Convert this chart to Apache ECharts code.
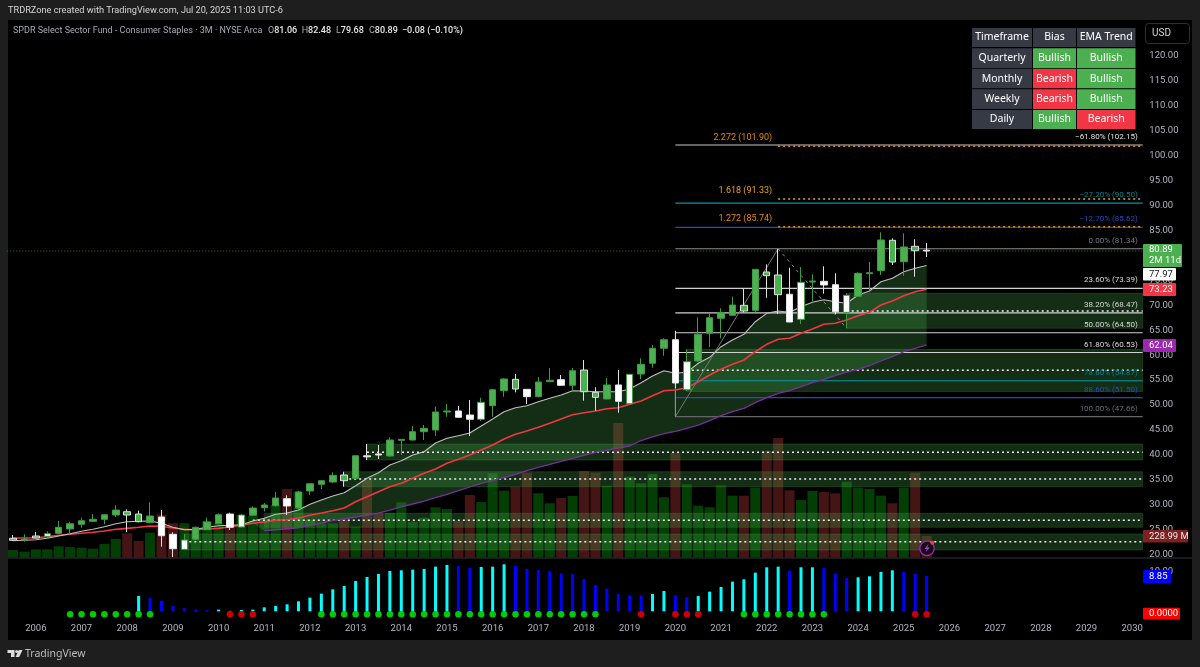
<!DOCTYPE html>
<html>
<head>
<meta charset="utf-8">
<title>XLP 3M</title>
<style>
  html, body { margin: 0; padding: 0; background: #1e1e1e; }
  #chart { width: 1200px; height: 667px; }
</style>
<script src="https://cdn.jsdelivr.net/npm/echarts@6/dist/echarts.min.js"></script>
</head>
<body>
<div id="chart"></div>
<script>
// quarterly bars, Q3 2005 to Q3 2025
const opens = [22.87,22.97,23.33,23.67,24.27,25.14,26.08,26.68,27.08,27.94,27.94,26.60,26.40,27.54,24.07,22.93,23.07,25.00,26.20,28.14,27.94,27.88,29.41,29.81,31.21,29.34,32.76,34.10,34.56,34.82,35.30,39.81,40.18,39.77,42.92,42.98,44.65,44.99,48.60,48.80,48.00,47.14,49.87,52.87,53.21,53.15,51.67,54.68,55.08,53.96,52.67,52.55,51.21,54.02,50.27,56.22,58.37,61.38,63.10,58.69,58.83,64.38,67.39,67.99,68.85,68.99,75.94,72.13,72.21,67.19,74.67,74.81,74.13,68.59,71.81,76.34,76.94,78.68,78.74,80.95,81.06];
const closes = [23.27,23.13,23.73,24.19,25.48,26.20,26.80,27.08,28.00,28.94,28.60,28.14,27.74,23.79,21.18,21.06,25.48,26.54,28.00,25.48,25.54,29.34,29.95,31.35,29.75,32.56,34.22,34.82,35.90,35.96,39.83,39.61,39.98,42.98,43.12,44.65,45.33,48.60,48.80,47.54,47.14,50.55,53.07,55.22,55.16,51.67,54.62,54.96,53.96,56.88,57.02,51.55,54.02,50.74,56.16,58.17,61.38,63.10,54.42,53.07,64.18,67.51,68.51,70.06,70.00,77.22,76.68,76.08,66.65,74.61,74.87,74.07,68.72,72.01,76.42,76.54,83.10,83.04,81.70,81.83,80.89];
const lows = [22.73,22.59,23.27,23.27,24.13,24.13,25.39,26.54,26.08,27.54,24.53,26.48,26.28,21.58,19.46,21.06,22.93,24.93,26.08,24.93,25.48,27.74,28.68,29.61,27.94,28.94,31.95,33.15,34.42,33.62,35.26,38.97,39.17,39.64,39.98,42.88,42.98,43.79,47.66,47.50,43.79,46.80,47.66,51.67,52.55,50.21,51.55,54.62,53.92,52.67,50.87,48.86,51.15,48.46,50.21,55.16,57.48,59.89,53.41,52.81,58.69,61.64,63.38,67.91,68.59,68.59,71.52,68.25,66.65,66.25,70.80,72.33,68.19,65.39,71.66,73.07,76.08,78.08,75.94,75.74,79.68];
const highs = [23.93,24.07,24.53,24.67,26.74,26.60,27.40,28.14,28.08,29.89,29.08,28.81,30.49,28.94,24.47,24.13,25.63,27.40,28.28,28.40,28.14,29.69,30.35,32.56,31.89,32.76,34.30,34.96,36.50,36.63,39.87,42.18,41.98,43.52,43.18,45.79,46.00,49.66,50.20,49.80,51.01,51.47,53.21,55.36,56.22,53.21,55.62,57.42,56.02,57.42,59.03,53.55,55.42,57.02,56.22,59.37,62.04,63.38,64.85,61.18,67.59,68.25,69.40,71.73,73.41,77.28,78.22,81.29,77.54,77.68,76.22,77.82,76.42,72.41,76.62,78.68,84.64,83.44,84.44,83.24,82.48];
// g green, w white, gw green body white outline, wg white body green outline
const candleKinds = ['gw','g','gw','wg','g','g','g','g','g','g','gw','gw','g','w','w','wg','g','g','g','w','wg','g','g','g','w','g','g','g','g','gw','g','w','w','g','g','g','g','g','g','w','w','wg','g','g','gw','w','g','g','w','g','gw','gw','g','w','wg','g','g','g','w','wg','g','g','g','g','gw','g','gw','gw','w','wg','g','w','w','wg','g','g','g','gw','g','gw','w'];

const emaFast = [22.79,22.87,22.99,23.27,23.73,24.19,24.67,25.07,25.59,26.20,26.60,26.68,26.74,26.28,25.48,25.00,25.07,25.48,25.80,25.88,26.00,26.74,27.28,28.08,28.34,28.94,30.09,30.95,31.75,32.41,33.82,35.30,36.43,37.97,38.83,39.98,40.64,42.38,43.33,43.85,44.39,45.79,47.20,48.66,49.46,49.87,50.67,51.35,52.01,52.87,52.81,52.67,52.67,52.67,53.21,54.48,55.82,56.88,56.36,56.56,58.37,59.57,61.70,63.04,64.18,66.71,68.39,68.85,68.59,69.72,70.60,71.12,70.72,70.40,72.06,72.87,74.73,75.41,76.74,77.42,77.97];
const emaMid = [23.33,23.33,23.39,23.59,23.87,24.07,24.27,24.47,24.73,25.07,25.27,25.48,25.74,25.68,25.34,25.07,25.00,25.14,25.27,25.59,25.88,26.28,26.54,26.88,27.00,27.34,27.88,28.34,28.81,29.34,30.61,31.61,32.62,33.62,34.30,35.30,36.31,37.17,38.31,39.11,39.98,40.98,41.98,43.18,44.13,44.79,45.53,46.33,47.20,48.06,48.46,48.80,49.26,49.46,50.14,50.81,51.87,52.87,53.01,53.47,54.67,56.02,57.16,58.17,59.03,60.69,62.18,63.18,63.38,64.38,65.25,66.19,66.39,67.05,67.91,68.59,70.06,70.86,71.93,72.73,73.23];
const emaSlow = [null,null,null,null,null,null,null,null,null,null,null,null,null,null,null,null,null,null,null,null,null,null,24.79,24.99,25.19,25.39,25.80,26.28,26.88,27.14,27.54,27.94,28.34,28.94,29.55,30.15,30.75,31.41,32.09,32.82,33.56,34.30,34.82,35.50,36.10,36.83,37.51,38.11,38.71,39.31,39.92,40.52,40.92,41.38,41.78,42.88,43.59,44.25,44.73,45.33,45.99,46.86,47.86,48.66,49.34,50.47,51.47,52.35,52.87,53.67,54.48,55.16,55.88,56.62,57.16,57.88,58.83,59.69,60.69,61.38,62.04];

// volume in millions
const volumes = [83,66,90,90,122,114,107,97,146,198,257,177,263,450,361,361,291,385,361,343,447,437,406,551,718,690,395,361,361,395,326,811,465,471,579,378,419,527,510,385,655,582,881,700,742,887,673,569,624,645,905,887,752,1404,846,777,874,631,1095,766,544,527,756,648,648,731,1113,1248,704,603,697,686,673,794,731,718,648,569,731,887,229];
const volumeDownBars = [10,11,13,14,19,24,29,31,32,39,40,44,45,48,50,51,53,58,64,66,67,68,71,72,77,79,80];

// lower pane
const momentum = [null,null,null,null,null,null,null,null,null,null,null,3.84,3.43,2.67,1.34,0.84,0.42,0.25,0.42,0.1,0.33,0.42,1.0,1.34,1.75,2.5,3.43,4.43,5.51,6.35,7.6,8.6,9.36,10.1,10.28,10.44,10.61,11.19,11.61,11.36,10.86,11.11,11.19,11.78,11.36,10.61,10.36,10.1,9.52,9.36,8.1,6.6,5.68,4.34,4.01,4.01,4.34,5.1,4.01,3.51,3.84,4.93,6.1,7.44,8.02,9.69,11.03,11.19,10.19,11.03,11.03,10.86,9.52,8.35,8.52,8.77,9.86,10.28,9.86,9.36,8.85];
const momentumBlueBars = [12,13,14,15,16,17,39,40,44,45,46,47,48,49,50,51,52,53,54,55,58,59,68,71,72,73,78,79,80];
const squeezeGreen = [5,6,7,8,9,10,11,12,27,28,29,30,31,32,33,34,35,36,37,38,39,40,41,42,43,44,45,46,47,48,49,50,51,64,65,66,67,68,69,70,71];
const squeezeRed = [19,20,21,55,58,59,60,79,80];

const priceTicks = [20,25,30,35,40,45,50,55,60,65,70,75,80,85,90,95,100,105,110,115,120];

// fib retracement, from the 2020 low to the 2022 high
const fibLevels = [102.15,90.50,85.62,81.34,73.39,68.47,64.50,60.53,54.87,51.50,47.66];
const fibTexts = ['−61.80% (102.15)','−27.20% (90.50)','−12.70% (85.62)','0.00% (81.34)','23.60% (73.39)','38.20% (68.47)','50.00% (64.50)','61.80% (60.53)','78.60% (54.87)','88.60% (51.50)','100.00% (47.66)'];
const fibLineColors = ['#c8c8c8','#0097a7','#1e4fc0','#8c8c8c','#d0d0d0','#d0d0d0','#d0d0d0','#d0d0d0','#0097a7','#1e4fc0','#666666'];
const fibTextColors = ['#e0e0e0','#00838f','#1e4fc0','#787b86','#d8d8d8','#d8d8d8','#d8d8d8','#d8d8d8','#00838f','#1e4fc0','#6a6d78'];

const extLevels = [101.90,91.33,85.74];
const extTexts = ['2.272 (101.90)','1.618 (91.33)','1.272 (85.74)'];
const extColors = ['#e68a00','#e8a317','#e68a00'];

// support zones: start year, top, bottom, dotted level, dotted start
const zoneStarts = [2023.75,2020.25,2013.25,2012.75,2011,2009.25];
const zoneTops = [72.40,61.17,42.18,36.63,28.28,24.13];
const zoneBottoms = [65.39,52.71,38.97,33.62,25.48,20.92];
const zoneLevels = [68.85,56.97,40.52,35.16,26.88,22.59];
const zoneLevelStarts = [2023.75,2020.25,2013.25,2012.75,2010.75,2009.25];

const swingUp = [[2020,47.66],[2022.25,81.34]];
const swingDown = [[2022.25,81.34],[2023.75,65.39]];
const swingEdge = [[2020,47.66],[2020,64.9]];

const lastClose = 80.89;
const levelStart = 2020;
const levelEnd = 2030.23;
const extStart = 2022.25;

const quarters = [];
for (let y = 2005; y <= 2030; y++) {
  for (let q = 1; q <= 4; q++) {
    if (y === 2005 && q < 3) continue;
    if (y === 2030 && q > 2) continue;
    quarters.push(y + ' Q' + q);
  }
}
const yearOf = (i) => 2005.5 + i * 0.25;

const GREEN = '#4caf50';
const RED = '#f23645';
const AXIS_TEXT = '#b2b5be';
const FONT = 'Roboto, "Noto Sans", sans-serif';

const kindStyles = {
  g: { body: GREEN, edge: '#3f9a43' },
  w: { body: '#ffffff', edge: '#e4e4e4' },
  gw: { body: GREEN, edge: '#e0e0e0' },
  wg: { body: '#ffffff', edge: '#3f9a43' }
};

const candleData = opens.map((o, i) => {
  const k = kindStyles[candleKinds[i]];
  return {
    value: [o, closes[i], lows[i], highs[i]],
    itemStyle: { color: k.body, color0: k.body, borderColor: k.edge, borderColor0: k.edge, borderWidth: 1 }
  };
});

function hLine (name, x0, x1, price, color, type, width) {
  return {
    name: name,
    type: 'line',
    xAxisIndex: 1,
    yAxisIndex: 0,
    z: 4,
    symbol: 'none',
    silent: true,
    lineStyle: { color: color, width: width || 1, type: type || 'solid' },
    data: [[x0, price], [x1, price]]
  };
}

function emaLine (name, values, color, width) {
  return {
    name: name,
    type: 'line',
    xAxisIndex: 1,
    yAxisIndex: 0,
    z: 5,
    symbol: 'none',
    connectNulls: false,
    lineStyle: { color: color, width: width },
    data: values.map((v, i) => [yearOf(i), v])
  };
}

const series = [
  {
    name: 'Volume',
    type: 'bar',
    xAxisIndex: 0,
    yAxisIndex: 1,
    z: 1,
    barWidth: 10,
    data: volumes.map((v, i) => ({
      value: v,
      itemStyle: { color: volumeDownBars.includes(i) ? '#451414' : '#033f05' }
    }))
  },
  {
    // ribbon between the fast and the slow average
    name: 'Ribbon',
    type: 'custom',
    xAxisIndex: 1,
    yAxisIndex: 0,
    z: 2,
    silent: true,
    data: [[yearOf(20), emaFast[20]]],
    renderItem: function (params, api) {
      const upper = [];
      const lower = [];
      for (let i = 20; i < emaFast.length; i++) {
        upper.push(api.coord([yearOf(i), emaFast[i]]));
        const low = emaSlow[i] === null ? emaMid[i] : emaSlow[i];
        lower.unshift(api.coord([yearOf(i), low]));
      }
      return {
        type: 'polygon',
        shape: { points: upper.concat(lower) },
        style: { fill: 'rgba(76,175,80,0.26)' }
      };
    }
  },
  {
    name: 'Zones',
    type: 'custom',
    xAxisIndex: 1,
    yAxisIndex: 0,
    z: 3,
    silent: true,
    data: zoneStarts.map((s, i) => [s, zoneTops[i], zoneBottoms[i]]),
    renderItem: function (params, api) {
      const a = api.coord([api.value(0), api.value(1)]);
      const b = api.coord([levelEnd, api.value(2)]);
      return {
        type: 'rect',
        shape: { x: a[0], y: a[1], width: b[0] - a[0], height: b[1] - a[1] },
        style: { fill: 'rgba(76,175,80,0.26)', stroke: 'rgba(76,175,80,0.22)', lineWidth: 1 }
      };
    }
  }
];

fibLevels.forEach((p, i) => {
  series.push(hLine('Fib ' + fibTexts[i], levelStart, levelEnd, p, fibLineColors[i], 'solid', 1.2));
});
extLevels.forEach((p, i) => {
  series.push(hLine('Ext ' + extTexts[i], extStart, levelEnd, p, extColors[i], [2, 3], 1.5));
});
zoneLevels.forEach((p, i) => {
  series.push(hLine('Zone level ' + i, zoneLevelStarts[i], levelEnd, p, '#f0f0f0', [2, 3], 1.5));
});
series.push(hLine('Last', 2005.375, levelEnd, lastClose, '#2e7d32', [1, 2], 1));

[['Swing up', swingUp, 'solid', '#787878'], ['Swing down', swingDown, [3, 4], '#8c8c8c'], ['Swing edge', swingEdge, 'solid', '#a0a0a0']].forEach((s) => {
  series.push({
    name: s[0],
    type: 'line',
    xAxisIndex: 1,
    yAxisIndex: 0,
    z: 4,
    symbol: 'none',
    lineStyle: { color: s[3], width: 1, type: s[2] },
    data: s[1]
  });
});

series.push(
  emaLine('EMA slow', emaSlow, '#7b2d9e', 1.3),
  emaLine('EMA mid', emaMid, RED, 1.6),
  emaLine('EMA fast', emaFast, '#c0c0c0', 1.1),
  {
    name: 'Price',
    type: 'candlestick',
    xAxisIndex: 0,
    yAxisIndex: 0,
    z: 6,
    barWidth: 7,
    data: candleData
  },
  {
    name: 'Fib labels',
    type: 'custom',
    xAxisIndex: 1,
    yAxisIndex: 0,
    z: 7,
    silent: true,
    clip: false,
    data: fibLevels.map((p) => [levelEnd, p]),
    renderItem: function (params, api) {
      const c = api.coord([api.value(0), api.value(1)]);
      return {
        type: 'text',
        x: c[0] - 5,
        y: c[1] - 8,
        style: {
          text: fibTexts[params.dataIndex],
          fill: fibTextColors[params.dataIndex],
          font: '8px ' + FONT,
          align: 'right',
          verticalAlign: 'middle'
        }
      };
    }
  },
  {
    name: 'Ext labels',
    type: 'custom',
    xAxisIndex: 1,
    yAxisIndex: 0,
    z: 7,
    silent: true,
    clip: false,
    data: extLevels.map((p) => [extStart, p]),
    renderItem: function (params, api) {
      const c = api.coord([api.value(0), api.value(1)]);
      return {
        type: 'text',
        x: c[0] - 6,
        y: c[1] - 8,
        style: {
          text: extTexts[params.dataIndex],
          fill: extColors[params.dataIndex],
          font: '9px ' + FONT,
          align: 'right',
          verticalAlign: 'middle'
        }
      };
    }
  },
  {
    name: 'Momentum',
    type: 'bar',
    xAxisIndex: 2,
    yAxisIndex: 2,
    barWidth: 3,
    data: momentum.map((v, i) => ({
      value: v,
      itemStyle: { color: momentumBlueBars.includes(i) ? '#0000ff' : '#00ffff' }
    }))
  },
  {
    name: 'Squeeze on',
    type: 'scatter',
    xAxisIndex: 2,
    yAxisIndex: 3,
    z: 5,
    symbolSize: 6.5,
    itemStyle: { color: '#00ff00' },
    data: squeezeGreen.map((i) => [i, 0])
  },
  {
    name: 'Squeeze off',
    type: 'scatter',
    xAxisIndex: 2,
    yAxisIndex: 3,
    z: 5,
    symbolSize: 6.5,
    itemStyle: { color: '#ff0000' },
    data: squeezeRed.map((i) => [i, 0])
  }
);

// table top right
const tableCols = [[972, 60], [1033, 43], [1077, 58.5]];
const tableRowTops = [[28, 19], [48.3, 20], [69, 19.3], [89.3, 19.7], [110, 19]];
const tableCells = [
  ['Timeframe', 'Bias', 'EMA Trend'],
  ['Quarterly', 'Bullish', 'Bullish'],
  ['Monthly', 'Bearish', 'Bullish'],
  ['Weekly', 'Bearish', 'Bullish'],
  ['Daily', 'Bullish', 'Bearish']
];

// price scale badges: text, top, height, width, fill, text colour
const badges = [
  ['80.89\n2M 11d', 244, 23, 39, GREEN, '#ffffff'],
  ['77.97', 268, 12.5, 33, '#ffffff', '#131722'],
  ['73.23', 283, 13, 33, RED, '#ffffff'],
  ['62.04', 339, 13, 33, '#9c27b0', '#ffffff'],
  ['228.99 M', 530, 12.5, 45, '#7f2020', '#e8e8e8'],
  ['8.85', 570, 13, 28, '#0000ff', '#ffffff'],
  ['0.0000', 607.7, 11.8, 37, '#ff0000', '#ffffff']
];

// the symbol line at the top of the pane
const ohlcLabels = [['O', '81.06', 268], ['H', '82.48', 301.7], ['L', '79.68', 336], ['C', '80.89', 369], ['', '−0.08 (−0.10%)', 402]];

const graphics = [
  { type: 'rect', silent: true, z: -1, shape: { x: 8, y: 20, width: 1184, height: 620 }, style: { fill: '#000000' } },
  { type: 'line', silent: true, z: 50, shape: { x1: 8, y1: 558, x2: 1192, y2: 558 }, style: { stroke: '#20222c', lineWidth: 1.5 } },
  { type: 'text', z: 100, x: 8, y: 11, silent: true, style: { text: 'TRDRZone created with TradingView.com, Jul 20, 2025 11:03 UTC-6', fill: '#d6d6d6', font: '9.2px ' + FONT, verticalAlign: 'middle' } },
  { type: 'text', z: 100, x: 13, y: 31, silent: true, style: { text: 'SPDR Select Sector Fund - Consumer Staples · 3M · NYSE Arca', fill: '#a8abb5', font: '9px ' + FONT, verticalAlign: 'middle' } },
  { type: 'rect', silent: true, z: 100, shape: { x: 1145.5, y: 23.5, width: 44, height: 20, r: 3 }, style: { fill: '#000000', stroke: '#2e2e2e', lineWidth: 1 } },
  { type: 'text', silent: true, z: 101, x: 1152, y: 33.5, style: { text: 'USD', fill: '#d6d6d6', font: '10px ' + FONT, verticalAlign: 'middle' } }
];

ohlcLabels.forEach((o) => {
  graphics.push({
    type: 'text',
    silent: true,
    z: 100,
    x: o[2],
    y: 31,
    style: {
      text: (o[0] ? '{n|' + o[0] + '}' : '') + '{v|' + o[1] + '}',
      verticalAlign: 'middle',
      rich: {
        n: { fill: '#a8abb5', font: '9px ' + FONT },
        v: { fill: '#e8e8e8', font: '500 9px ' + FONT }
      }
    }
  });
});

tableCells.forEach((row, r) => {
  row.forEach((txt, c) => {
    let fill = '#363a45';
    if (txt === 'Bullish') fill = GREEN;
    if (txt === 'Bearish') fill = RED;
    graphics.push({
      type: 'rect',
      silent: true,
      z: 100,
      shape: { x: tableCols[c][0], y: tableRowTops[r][0], width: tableCols[c][1], height: tableRowTops[r][1] },
      style: { fill: fill }
    });
    graphics.push({
      type: 'text',
      silent: true,
      z: 101,
      x: tableCols[c][0] + tableCols[c][1] / 2,
      y: tableRowTops[r][0] + tableRowTops[r][1] / 2,
      style: { text: txt, fill: '#ffffff', font: '10.5px "Noto Sans", sans-serif', align: 'center', verticalAlign: 'middle' }
    });
  });
});

badges.forEach((b) => {
  graphics.push({
    type: 'rect',
    silent: true,
    z: 100,
    shape: { x: 1143, y: b[1], width: b[3], height: b[2], r: 1 },
    style: { fill: b[4] }
  });
  graphics.push({
    type: 'text',
    silent: true,
    z: 101,
    x: 1149,
    y: b[1] + b[2] / 2,
    style: { text: b[0], fill: b[5], font: '9.5px ' + FONT, verticalAlign: 'middle', lineHeight: 11 }
  });
});

// alert icon on the last bar
graphics.push(
  { type: 'circle', silent: true, z: 60, shape: { cx: 927, cy: 548.3, r: 7.2 }, style: { fill: '#140a18', stroke: '#9c27b0', lineWidth: 1.4 } },
  { type: 'polygon', silent: true, z: 61, shape: { points: [[928.5, 544], [924.5, 549], [927, 549], [925.5, 552.5], [929.8, 547.6], [927.3, 547.6]] }, style: { fill: '#b03cc8' } },
  { type: 'circle', silent: true, z: 62, shape: { cx: 932.3, cy: 542.8, r: 2 }, style: { fill: RED } }
);

// footer mark
graphics.push(
  { type: 'polygon', silent: true, z: 100, shape: { points: [[7.5, 650], [14.5, 650], [14.5, 657], [11, 657], [11, 653], [7.5, 653]] }, style: { fill: '#dcdcdc' } },
  { type: 'circle', silent: true, z: 100, shape: { cx: 16.6, cy: 651.6, r: 1.5 }, style: { fill: '#dcdcdc' } },
  { type: 'polygon', silent: true, z: 100, shape: { points: [[18.8, 650], [22.5, 650], [19.2, 657], [15.6, 657]] }, style: { fill: '#dcdcdc' } },
  { type: 'text', silent: true, z: 100, x: 25, y: 654, style: { text: 'TradingView', fill: '#bdbdbd', font: '10.5px "Noto Sans", sans-serif', verticalAlign: 'middle' } }
);

const GRID_LEFT = 7.3;
const GRID_WIDTH = 1142;

const option = {
  animation: false,
  backgroundColor: '#1e1e1e',
  grid: [
    { left: GRID_LEFT, width: GRID_WIDTH, top: 20, height: 538 },
    { left: GRID_LEFT, width: GRID_WIDTH, top: 558, height: 64 }
  ],
  xAxis: [
    { type: 'category', gridIndex: 0, data: quarters, show: false },
    { type: 'value', gridIndex: 0, min: 2005.375, max: 2030.375, show: false },
    {
      type: 'category',
      gridIndex: 1,
      data: quarters,
      axisLine: { show: false },
      axisTick: { show: false },
      splitLine: { show: false },
      axisLabel: {
        color: AXIS_TEXT,
        fontFamily: FONT,
        fontSize: 9.5,
        margin: 2,
        interval: (i, v) => v.endsWith('Q1'),
        formatter: (v) => v.slice(0, 4)
      }
    }
  ],
  yAxis: [
    {
      type: 'value',
      gridIndex: 0,
      position: 'right',
      min: 19.32,
      max: 127.22,
      axisLine: { show: false },
      axisTick: { show: false },
      splitLine: { show: false },
      axisLabel: {
        customValues: priceTicks,
        color: AXIS_TEXT,
        fontFamily: FONT,
        fontSize: 9.5,
        margin: 0,
        padding: [3, 0, 0, 0],
        formatter: (v) => v.toFixed(2)
      }
    },
    { type: 'value', gridIndex: 0, min: 0, max: 5595, show: false },
    {
      type: 'value',
      gridIndex: 1,
      position: 'right',
      min: -2.68,
      max: 13.36,
      axisLine: { show: false },
      axisTick: { show: false },
      splitLine: { show: false },
      axisLabel: {
        customValues: [10],
        color: AXIS_TEXT,
        fontFamily: FONT,
        fontSize: 9.5,
        margin: 0,
        padding: [4, 0, 0, 0],
        formatter: (v) => v.toFixed(2)
      }
    },
    { type: 'value', gridIndex: 1, min: -1.93, max: 14.11, show: false }
  ],
  graphic: graphics,
  series: series
};

const chart = echarts.init(document.getElementById('chart'));
chart.setOption(option);
</script>
</body>
</html>
